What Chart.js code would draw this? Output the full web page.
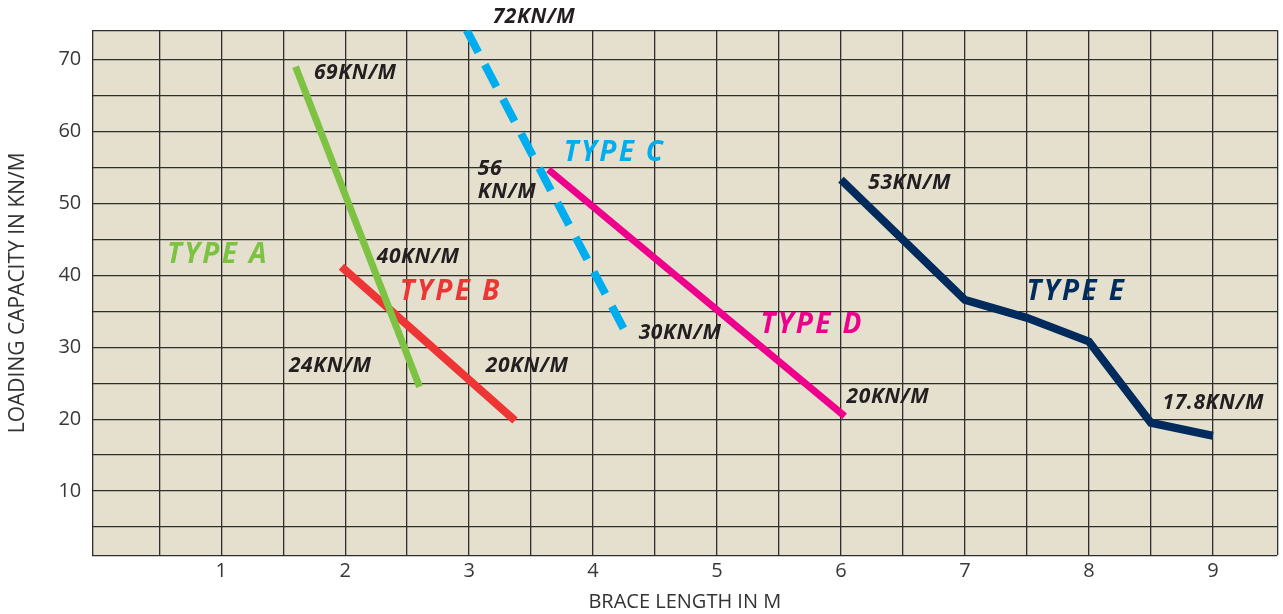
<!DOCTYPE html>
<html><head><meta charset="utf-8">
<script src="https://cdn.jsdelivr.net/npm/chart.js@4"></script>
<style>html,body{margin:0;padding:0;background:#fff}</style>
</head><body>
<canvas id="c" width="1283" height="614"></canvas>
<script>
// ---- data ----
const typeAX = [1.6, 2.6];
const typeAY = [69, 24.5];
const typeBX = [1.97, 3.37];
const typeBY = [41.2, 19.8];
const typeCX = [2.98, 4.28];
const typeCY = [74.1, 31.5];
const typeDX = [3.64, 6.03];
const typeDY = [54.7, 20.4];
const typeEX = [6, 7, 7.5, 8, 8.5, 9];
const typeEY = [53.3, 36.6, 34.1, 30.8, 19.5, 17.7];

const xTickLabels = [1, 2, 3, 4, 5, 6, 7, 8, 9];
const yTickLabels = [10, 20, 30, 40, 50, 60, 70];
const xGridValues = [-0.04, 0.5, 1, 1.5, 2, 2.5, 3, 3.5, 4, 4.5, 5, 5.5, 6, 6.5, 7, 7.5, 8, 8.5, 9, 9.52];
const yGridValues = [1.07, 5, 10, 15, 20, 25, 30, 35, 40, 45, 50, 55, 60, 65, 70, 74.08];

const noteTexts = ['69KN/M', '72KN/M', '56', 'KN/M', '40KN/M', '24KN/M', '20KN/M', '30KN/M', '20KN/M', '53KN/M', '17.8KN/M'];
const noteX     = [1.748, 3.19, 3.07, 3.07, 2.255, 1.546, 3.134, 4.368, 6.045, 6.22, 8.594];
const noteY     = [68.15, 75.94, 54.8, 51.6, 42.56, 27.4, 27.4, 32.0, 23.1, 52.85, 22.26];

const typeNames  = ['TYPE A', 'TYPE B', 'TYPE C', 'TYPE D', 'TYPE E'];
const typeNameX  = [0.562, 2.44, 3.763, 5.35, 7.497];
const typeNameY  = [42.8, 37.7, 57.0, 33.1, 37.7];

// ---- styles ----
const colA = '#7dc242', colB = '#ee3535', colC = '#00aeef', colD = '#ec008c', colE = '#002b5c';
const typeColors = [colA, colB, colC, colD, colE];

const pts = (xs, ys) => xs.map((x, i) => ({x, y: ys[i]}));

function lineDs(label, xs, ys, color, width, dash) {
  return {
    label, data: pts(xs, ys), showLine: true, borderColor: color, backgroundColor: color,
    borderWidth: width, pointRadius: 0, pointHoverRadius: 0, borderCapStyle: 'butt',
    borderJoinStyle: 'miter', borderDash: dash || [], tension: 0, fill: false
  };
}

const textPlugin = {
  id: 'notes',
  afterDatasetsDraw(chart) {
    const {ctx, scales: {x, y}} = chart;
    ctx.save();
    ctx.textAlign = 'left';
    ctx.textBaseline = 'middle';
    ctx.fillStyle = '#231f20';
    ctx.font = 'italic bold 21px "Open Sans"';
    ctx.letterSpacing = '0.6px';
    noteTexts.forEach((t, i) => {
      ctx.fillText(t, x.getPixelForValue(noteX[i]), y.getPixelForValue(noteY[i]));
    });
    ctx.font = 'italic bold 28px "Open Sans"';
    ctx.letterSpacing = '2.4px';
    typeNames.forEach((t, i) => {
      ctx.fillStyle = typeColors[i];
      ctx.fillText(t, x.getPixelForValue(typeNameX[i]), y.getPixelForValue(typeNameY[i]));
    });
    ctx.restore();
  }
};

const bgPlugin = {
  id: 'plotbg',
  beforeDraw(chart) {
    const {ctx, chartArea: a} = chart;
    ctx.save();
    ctx.fillStyle = '#e5e0ce';
    ctx.fillRect(a.left, a.top, a.right - a.left, a.bottom - a.top);
    ctx.restore();
  }
};

new Chart(document.getElementById('c'), {
  type: 'scatter',
  data: {
    datasets: [
      lineDs('TYPE A', typeAX, typeAY, colA, 7),
      lineDs('TYPE B', typeBX, typeBY, colB, 8),
      lineDs('TYPE C', typeCX, typeCY, colC, 8, [25, 14]),
      lineDs('TYPE D', typeDX, typeDY, colD, 7),
      lineDs('TYPE E', typeEX, typeEY, colE, 8)
    ]
  },
  options: {
    responsive: false,
    animation: false,
    layout: {padding: {left: 0, top: 30.3, right: 5.7, bottom: 0}},
    plugins: {legend: {display: false}, tooltip: {enabled: false}},
    scales: {
      x: {
        type: 'linear', min: -0.04, max: 9.52,
        afterBuildTicks: s => { s.ticks = xGridValues.map(v => ({value: v})); },
        afterFit: s => { s.height = 58.7; },
        grid: {color: '#2e2e2e', lineWidth: 1.3, drawTicks: false},
        border: {display: false},
        ticks: {
          autoSkip: false, maxRotation: 0, padding: 4, color: '#383838',
          font: {family: '"Open Sans"', size: 20},
          callback: v => xTickLabels.includes(v) ? String(v) : ''
        },
        title: {display: true, text: 'BRACE LENGTH IN M', color: '#333',
          font: {family: '"Open Sans"', size: 20}, padding: {top: 0, bottom: 0}}
      },
      y: {
        type: 'linear', min: 1.07, max: 74.08,
        afterBuildTicks: s => { s.ticks = yGridValues.map(v => ({value: v})); },
        afterFit: s => { s.width = 92.3; },
        grid: {color: '#2e2e2e', lineWidth: 1.3, drawTicks: false},
        border: {display: false},
        ticks: {
          autoSkip: false, padding: 11, color: '#383838',
          font: {family: '"Open Sans"', size: 20},
          callback: v => yTickLabels.includes(v) ? String(v) : ''
        },
        title: {display: true, text: 'LOADING CAPACITY IN KN/M', color: '#333',
          font: {family: '"Open Sans"', size: 21}, padding: {top: 5, bottom: 0}}
      }
    }
  },
  plugins: [bgPlugin, textPlugin]
});
</script>
</body></html>
